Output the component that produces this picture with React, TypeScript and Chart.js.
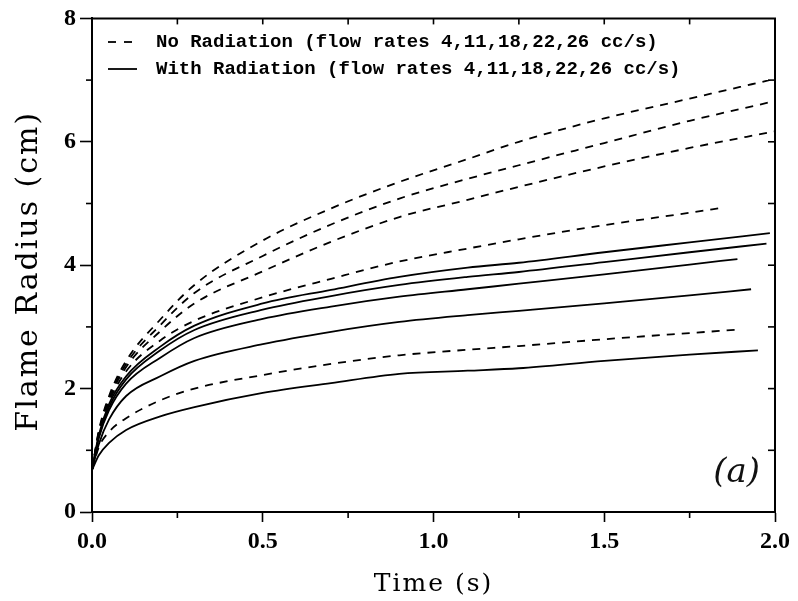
import React, { useEffect, useRef } from 'react';
import { Chart, registerables } from 'chart.js';

Chart.register(...registerables);

// Time samples (s); last time of each curve is given separately
const tBase = [0, 0.02, 0.05, 0.1, 0.2, 0.3, 0.5, 0.7, 0.9, 1.1, 1.25, 1.5, 1.75];
const flowRates = [26, 22, 18, 11, 4];
const endTimeNoRad = [2.0, 2.0, 2.0, 1.845, 1.9];
const endTimeRad = [1.985, 1.975, 1.89, 1.93, 1.95];

// Flame radius (cm), No Radiation (dashed)
const noRad26 = [0.68, 1.32, 1.88, 2.45, 3.12, 3.68, 4.4, 4.92, 5.35, 5.72, 6.0, 6.38, 6.7, 7.02];
const noRad22 = [0.68, 1.3, 1.85, 2.4, 3.03, 3.55, 4.15, 4.66, 5.08, 5.4, 5.62, 5.98, 6.34, 6.66];
const noRad18 = [0.68, 1.28, 1.82, 2.35, 2.93, 3.38, 3.9, 4.38, 4.78, 5.06, 5.27, 5.6, 5.9, 6.17];
const noRad11 = [0.68, 1.26, 1.78, 2.28, 2.78, 3.1, 3.48, 3.78, 4.06, 4.27, 4.42, 4.65, 4.85, 4.93];
const noRad4 = [0.68, 1.05, 1.3, 1.52, 1.81, 2.0, 2.22, 2.4, 2.54, 2.63, 2.69, 2.8, 2.9, 2.96];

// Flame radius (cm), With Radiation (solid)
const rad26 = [0.68, 1.25, 1.75, 2.2, 2.68, 3.02, 3.38, 3.6, 3.81, 3.96, 4.04, 4.21, 4.37, 4.52];
const rad22 = [0.68, 1.22, 1.7, 2.15, 2.62, 2.95, 3.28, 3.5, 3.68, 3.81, 3.89, 4.05, 4.21, 4.35];
const rad18 = [0.68, 1.2, 1.65, 2.08, 2.5, 2.82, 3.13, 3.33, 3.49, 3.61, 3.7, 3.85, 4.01, 4.1];
const rad11 = [0.68, 1.1, 1.5, 1.88, 2.2, 2.45, 2.72, 2.92, 3.08, 3.19, 3.26, 3.38, 3.51, 3.61];
const rad4 = [0.68, 0.92, 1.12, 1.33, 1.55, 1.7, 1.93, 2.09, 2.24, 2.29, 2.33, 2.45, 2.55, 2.62];

const noRadSeries = [noRad26, noRad22, noRad18, noRad11, noRad4];
const radSeries = [rad26, rad22, rad18, rad11, rad4];

const xMajorTicks = [0, 0.5, 1.0, 1.5, 2.0];
const xMinorTicks = [0.25, 0.75, 1.25, 1.75];
const yMinorTicks = [1, 3, 5, 7];

const xTitle = 'Time (s)';
const yTitle = 'Flame Radius (cm)';
const legendNoRad = 'No Radiation (flow rates 4,11,18,22,26 cc/s)';
const legendRad = 'With Radiation (flow rates 4,11,18,22,26 cc/s)';
const panelLabel = '(a)';

const toPoints = (r: number[], tEnd: number) =>
  [...tBase, tEnd].map((t, i) => ({ x: t, y: r[i] }));

const framePlugin = {
  id: 'frameAndLegend',
  afterDraw(chart: any) {
    const { ctx, chartArea } = chart;
    const xs = chart.scales.x;
    const ys = chart.scales.y;
    const { left, right, top, bottom } = chartArea;
    ctx.save();
    ctx.strokeStyle = '#000';
    ctx.lineWidth = 2;
    ctx.setLineDash([]);
    // top and right frame
    ctx.beginPath();
    ctx.moveTo(left, top);
    ctx.lineTo(right, top);
    ctx.lineTo(right, bottom);
    ctx.stroke();
    ctx.lineWidth = 1.6;
    xMinorTicks.forEach((v) => {
      const px = xs.getPixelForValue(v);
      ctx.beginPath();
      ctx.moveTo(px, bottom);
      ctx.lineTo(px, bottom + 6);
      ctx.stroke();
    });
    yMinorTicks.forEach((v) => {
      const py = ys.getPixelForValue(v);
      ctx.beginPath();
      ctx.moveTo(left, py);
      ctx.lineTo(left - 6, py);
      ctx.stroke();
    });
    [...xMinorTicks, ...xMajorTicks.slice(1, -1)].forEach((v) => {
      const px = xs.getPixelForValue(v);
      ctx.beginPath();
      ctx.moveTo(px, top);
      ctx.lineTo(px, top + 6);
      ctx.stroke();
    });
    [1, 2, 3, 4, 5, 6, 7].forEach((v) => {
      const py = ys.getPixelForValue(v);
      ctx.beginPath();
      ctx.moveTo(right, py);
      ctx.lineTo(right - 7, py);
      ctx.stroke();
    });

    // axis titles
    ctx.fillStyle = '#000';
    (ctx as any).letterSpacing = '2px';
    ctx.textAlign = 'center';
    ctx.textBaseline = 'middle';
    ctx.font = '25px "DejaVu Serif"';
    ctx.fillText(xTitle, (left + right) / 2, 584);
    ctx.save();
    ctx.translate(29, (top + bottom) / 2 + 6);
    ctx.rotate(-Math.PI / 2);
    ctx.font = '30px "DejaVu Serif"';
    ctx.fillText(yTitle, 0, 0);
    ctx.restore();
    (ctx as any).letterSpacing = '0px';

    // legend
    ctx.lineWidth = 1.8;
    ctx.setLineDash([8, 8]);
    ctx.beginPath();
    ctx.moveTo(108, 42);
    ctx.lineTo(134, 42);
    ctx.stroke();
    ctx.setLineDash([]);
    ctx.beginPath();
    ctx.moveTo(108, 69);
    ctx.lineTo(137, 69);
    ctx.stroke();
    ctx.font = 'bold 19px "Liberation Mono"';
    ctx.textAlign = 'left';
    ctx.textBaseline = 'alphabetic';
    ctx.fillText(legendNoRad, 156, 47);
    ctx.fillText(legendRad, 156, 74);

    // panel label
    ctx.font = 'italic 34px "DejaVu Serif"';
    ctx.textAlign = 'right';
    ctx.textBaseline = 'middle';
    ctx.fillStyle = '#111';
    ctx.fillText(panelLabel, 760, 473);
    ctx.restore();
  },
};

export default function App() {
  const canvasRef = useRef<HTMLCanvasElement | null>(null);

  useEffect(() => {
    document.body.style.margin = '0';
    const canvas = canvasRef.current;
    if (!canvas) return;

    const datasets: any[] = [];
    noRadSeries.forEach((r, i) => {
      datasets.push({
        label: `No Radiation ${flowRates[i]} cc/s`,
        data: toPoints(r, endTimeNoRad[i]),
        borderColor: '#000',
        borderWidth: 1.8,
        borderDash: [8, 7],
        pointRadius: 0,
        fill: false,
        cubicInterpolationMode: 'monotone',
      });
    });
    radSeries.forEach((r, i) => {
      datasets.push({
        label: `With Radiation ${flowRates[i]} cc/s`,
        data: toPoints(r, endTimeRad[i]),
        borderColor: '#000',
        borderWidth: 1.8,
        pointRadius: 0,
        fill: false,
        cubicInterpolationMode: 'monotone',
      });
    });

    const chart = new Chart(canvas, {
      type: 'line',
      data: { datasets },
      options: {
        animation: false,
        responsive: false,
        devicePixelRatio: 1,
        layout: { padding: { left: 0, top: 18, right: 23, bottom: 0 } },
        plugins: {
          legend: { display: false },
          tooltip: { enabled: false },
        },
        scales: {
          x: {
            type: 'linear',
            min: 0,
            max: 2,
            afterFit: (scale: any) => {
              scale.height = 89;
            },
            ticks: {
              stepSize: 0.5,
              padding: 5,
              color: '#000',
              font: { family: '"Liberation Serif"', size: 24, weight: 'bold' },
              callback: (v: any) => Number(v).toFixed(1),
              maxRotation: 0,
            },
            grid: {
              drawOnChartArea: false,
              tickLength: 10,
              tickWidth: 1.6,
              tickColor: '#000',
            },
            border: { display: true, color: '#000', width: 2 },
            title: { display: false, text: xTitle },
          },
          y: {
            type: 'linear',
            min: 0,
            max: 8,
            afterFit: (scale: any) => {
              scale.width = 92;
            },
            ticks: {
              stepSize: 2,
              padding: 4,
              color: '#000',
              font: { family: '"Liberation Serif"', size: 24, weight: 'bold' },
            },
            grid: {
              drawOnChartArea: false,
              tickLength: 12,
              tickWidth: 1.6,
              tickColor: '#000',
            },
            border: { display: true, color: '#000', width: 2 },
            title: { display: false, text: yTitle },
          },
        },
      },
      plugins: [framePlugin],
    });

    return () => {
      chart.destroy();
    };
  }, []);

  return (
    <div style={{ width: 798, height: 601, background: '#fff' }}>
      <canvas ref={canvasRef} width={798} height={601} />
    </div>
  );
}
